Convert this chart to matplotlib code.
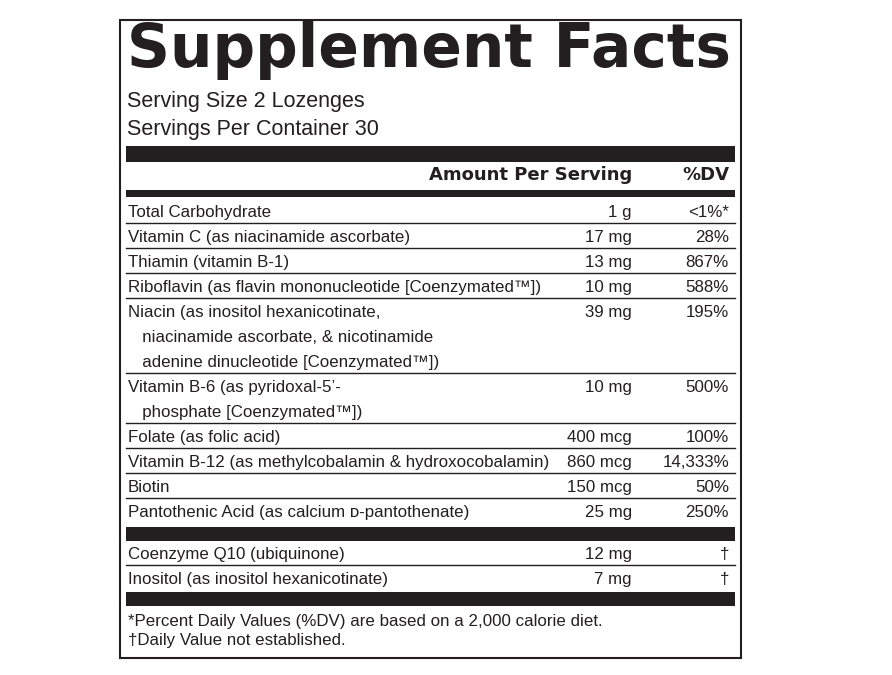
import matplotlib
matplotlib.use("Agg")
import matplotlib.pyplot as plt
from matplotlib import font_manager as fm

names = [["Total Carbohydrate"],
         ["Vitamin C (as niacinamide ascorbate)"],
         ["Thiamin (vitamin B-1)"],
         ["Riboflavin (as flavin mononucleotide [Coenzymated™])"],
         ["Niacin (as inositol hexanicotinate,", "   niacinamide ascorbate, & nicotinamide", "   adenine dinucleotide [Coenzymated™])"],
         ["Vitamin B-6 (as pyridoxal-5’-", "   phosphate [Coenzymated™])"],
         ["Folate (as folic acid)"],
         ["Vitamin B-12 (as methylcobalamin & hydroxocobalamin)"],
         ["Biotin"],
         ["Pantothenic Acid (as calcium ᴅ-pantothenate)"]]
amounts = ["1 g", "17 mg", "13 mg", "10 mg", "39 mg", "10 mg", "400 mcg", "860 mcg", "150 mcg", "25 mg"]
dvs = ["<1%*", "28%", "867%", "588%", "195%", "500%", "100%", "14,333%", "50%", "250%"]
names2 = ["Coenzyme Q10 (ubiquinone)", "Inositol (as inositol hexanicotinate)"]
amounts2 = ["12 mg", "7 mg"]
dvs2 = ["†", "†"]

avail = {f.name for f in fm.fontManager.ttflist}
narrow = "Liberation Sans Narrow" if "Liberation Sans Narrow" in avail else "Liberation Sans"
fam = [narrow, "DejaVu Sans"]

fig = plt.figure(figsize=(8.92, 6.75), dpi=100)
ax = fig.add_axes([0, 0, 1, 1])
ax.set_xlim(0, 892); ax.set_ylim(675, 0); ax.axis("off")
C = "#231f20"
ax.add_patch(plt.Rectangle((120, 20), 621, 638, fill=False, ec=C, lw=1.5))
ax.text(127, 50, "Supplement Facts", fontsize=43, fontweight="black", family="DejaVu Sans",
        va="center", ha="left", color=C)
ax.text(127, 102, "Serving Size 2 Lozenges", fontsize=15.5, family=fam, va="center", color=C)
ax.text(127, 129, "Servings Per Container 30", fontsize=15.5, family=fam, va="center", color=C)
X0, X1 = 126, 735
ax.add_patch(plt.Rectangle((X0, 146), X1 - X0, 16, color=C, lw=0))
ax.text(632, 175, "Amount Per Serving", fontsize=13, fontweight="bold", family="DejaVu Sans", ha="right", va="center", color=C)
ax.text(729, 175, "%DV", fontsize=13, fontweight="bold", family="DejaVu Sans", ha="right", va="center", color=C)
ax.add_patch(plt.Rectangle((X0, 190), X1 - X0, 7, color=C, lw=0))

fs = 12.2
kw = dict(fontsize=fs, family=fam, va="center_baseline", color=C)
y = 211
step = 25
for i, (nm, am, dv) in enumerate(zip(names, amounts, dvs)):
    for j, line in enumerate(nm):
        ax.text(128, y + j * step, line, **kw)
    ax.text(632, y, am, ha="right", **kw)
    ax.text(729, y, dv, ha="right", **kw)
    y += step * len(nm)
    if i < len(names) - 1:
        ax.plot([X0, X1], [y - 13, y - 13], color=C, lw=1)
ax.add_patch(plt.Rectangle((X0, 527), X1 - X0, 14, color=C, lw=0))
y = 553
for i, (nm, am, dv) in enumerate(zip(names2, amounts2, dvs2)):
    ax.text(128, y, nm, **kw)
    ax.text(632, y, am, ha="right", **kw)
    ax.text(729, y, dv, ha="right", **kw)
    if i == 0:
        ax.plot([X0, X1], [y + 12, y + 12], color=C, lw=1)
    y += step
ax.add_patch(plt.Rectangle((X0, 592), X1 - X0, 14, color=C, lw=0))
ax.text(128, 620, "*Percent Daily Values (%DV) are based on a 2,000 calorie diet.", **kw)
ax.text(128, 639, "†Daily Value not established.", **kw)
fig.savefig("out.png", dpi=100)
